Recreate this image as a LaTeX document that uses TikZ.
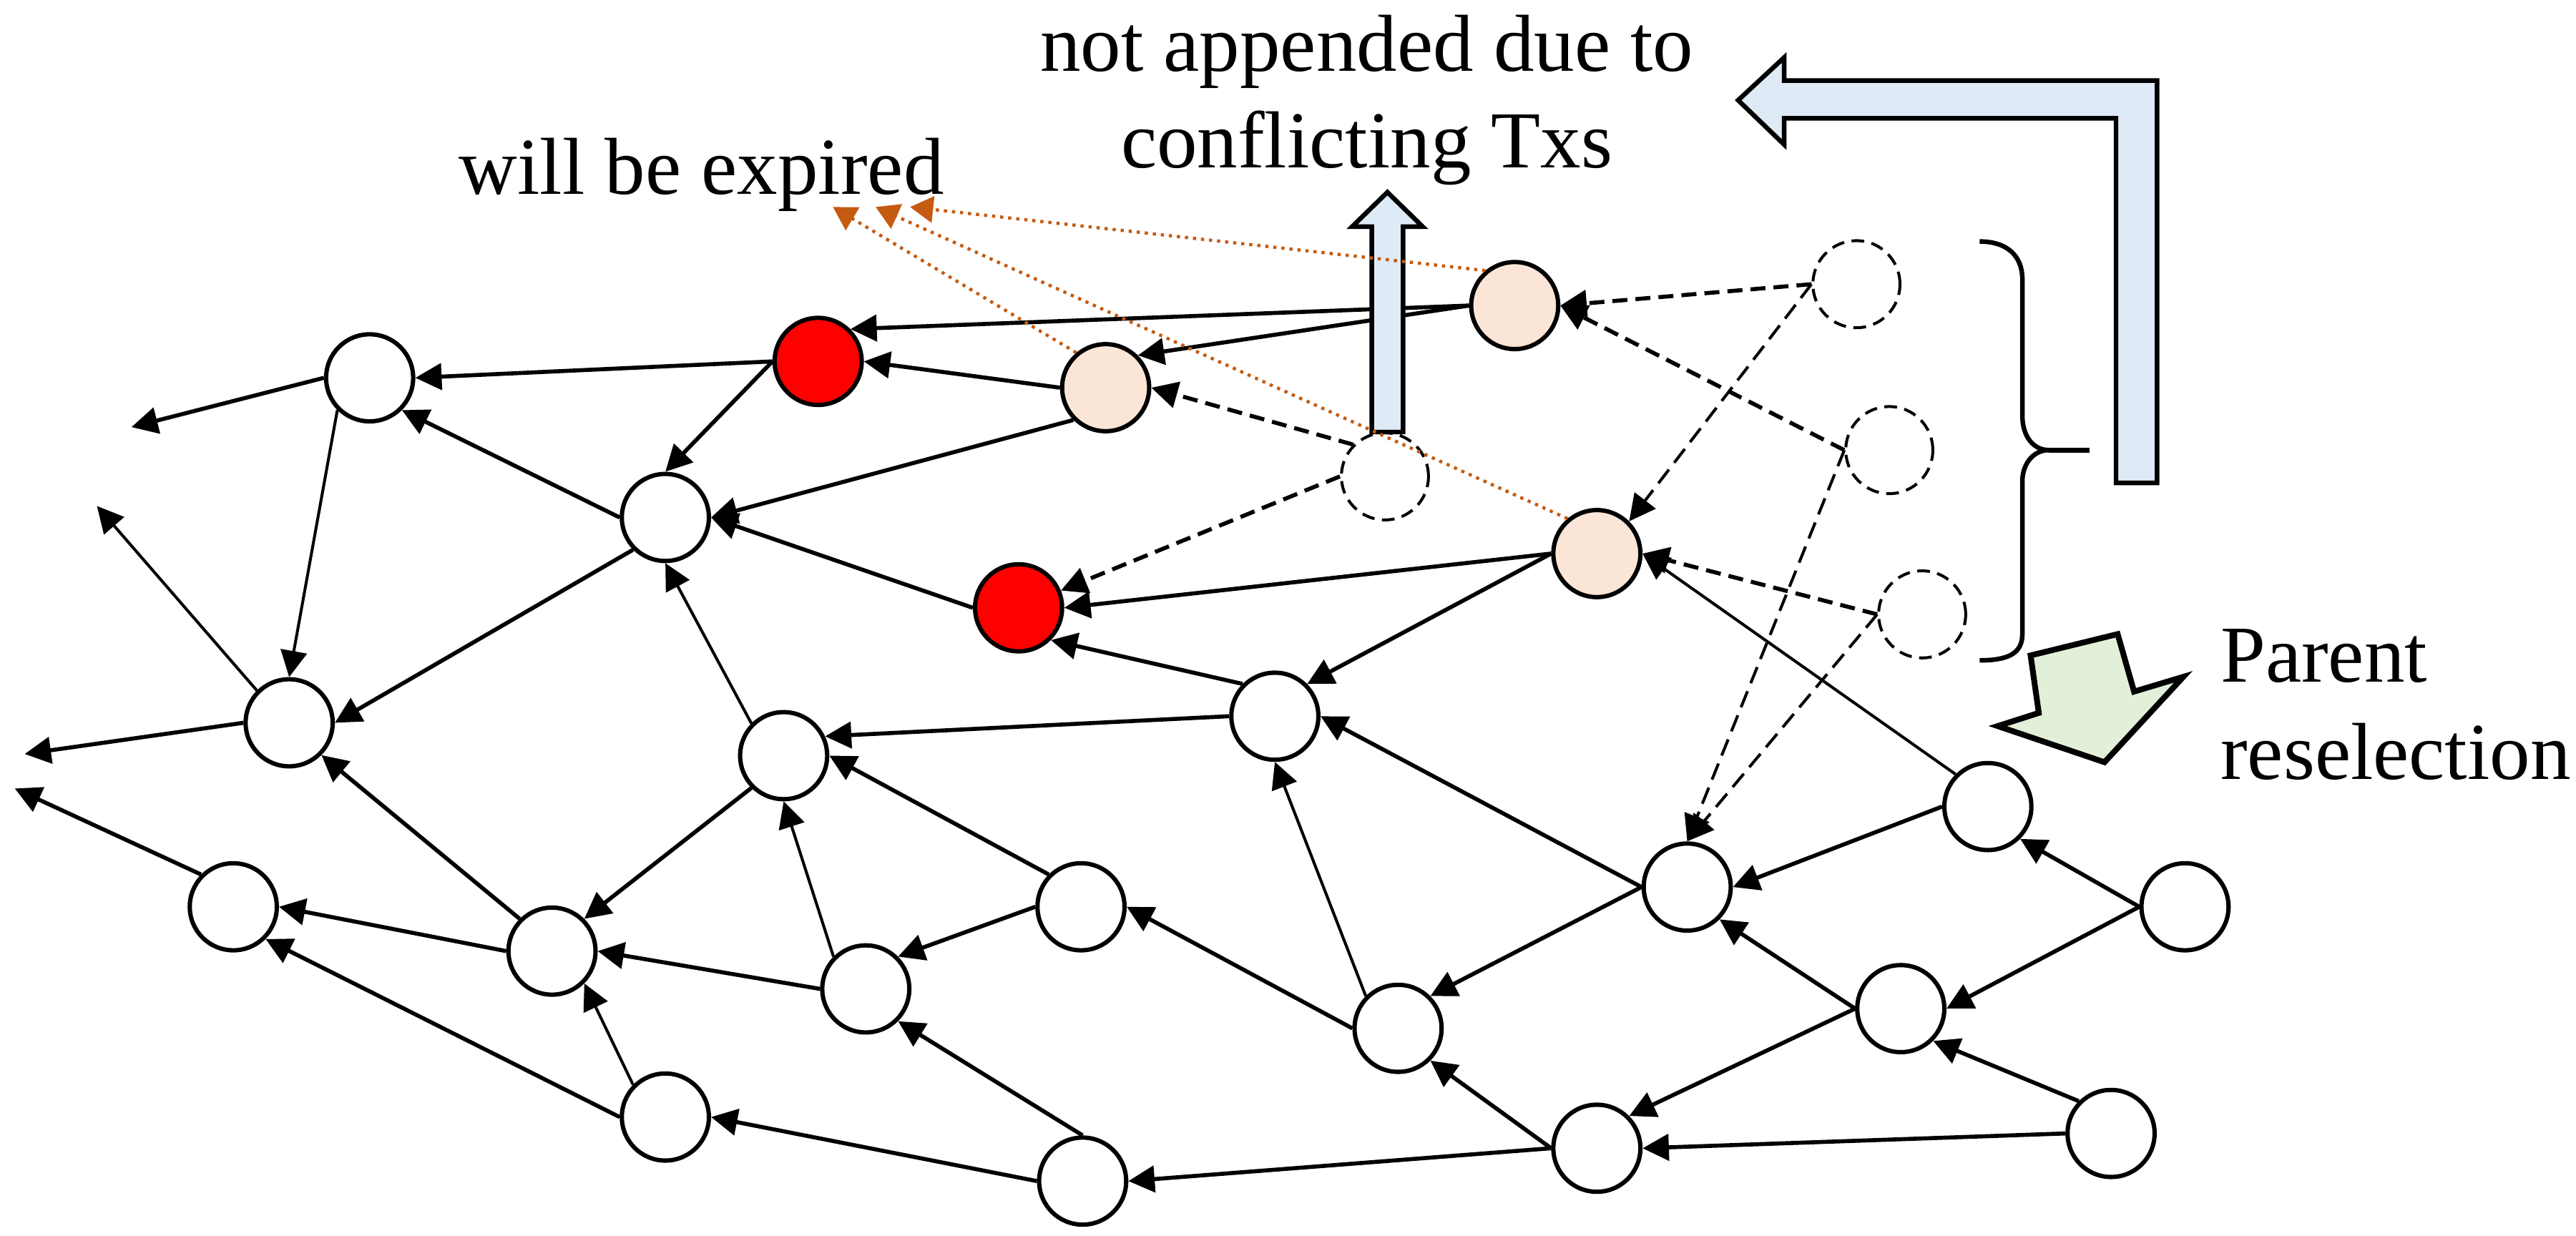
\documentclass[tikz,border=0pt]{standalone}
\usepackage{fontspec}
\setmainfont{Liberation Serif}
\usetikzlibrary{arrows.meta}

\definecolor{peach}{HTML}{FBE5D6}
\definecolor{paleblue}{HTML}{DEEBF7}
\definecolor{palegreen}{HTML}{E2F0D9}
\definecolor{rust}{HTML}{C55A11}

\tikzset{
  tx/.style={circle, draw, line width=0.75pt, fill=white, minimum size=5.3mm, inner sep=0pt},
  txexp/.style={tx, fill=red},
  txconf/.style={tx, fill=peach},
  txnew/.style={circle, draw, line width=0.5pt, dash pattern=on 2.2pt off 1.3pt, minimum size=5.3mm, inner sep=0pt},
  edge/.style={line width=0.7pt, -{Triangle[length=1.6mm, width=1.6mm]}},
  thinedge/.style={edge, line width=0.5pt},
  newedge/.style={edge, dash pattern=on 2.6pt off 1.4pt},
  thinnewedge/.style={newedge, line width=0.5pt, dash pattern=on 3pt off 1.5pt},
  expline/.style={rust, line width=0.55pt, dash pattern=on 0.55pt off 0.85pt, -{Triangle[length=1.4mm, width=1.6mm]}},
  bigarrow/.style={draw, line width=0.8pt, line join=miter, fill=paleblue},
  labeltext/.style={font=\fontsize{14}{16.8}\selectfont, inner sep=0pt}
}

\begin{document}
\begin{tikzpicture}[x=0.1mm, y=-0.1mm]
    \useasboundingbox (0,0) rectangle (1568,752);

    % Labels
    \node[labeltext, align=center] (conflict) at (832,61) {not appended due to\\conflicting Txs};
    \node[labeltext, anchor=base] (expired) at (427,118) {will be expired};
    \node[labeltext, align=left, anchor=west] (reselect) at (1351,429) {Parent\\reselection};

    % Transactions in the tangle
    \node[tx] (t1) at (225,230) {};
    \node[tx] (t2) at (405,315) {};
    \node[tx] (t3) at (176,440) {};
    \node[tx] (t4) at (477,460) {};
    \node[tx] (t5) at (776,436) {};
    \node[tx] (t6) at (1210,491) {};
    \node[tx] (t7) at (1027,540) {};
    \node[tx] (t8) at (142,552) {};
    \node[tx] (t9) at (658,552) {};
    \node[tx] (t10) at (336,579) {};
    \node[tx] (t11) at (527,602) {};
    \node[tx] (t12) at (1330,552) {};
    \node[tx] (t13) at (851,626) {};
    \node[tx] (t14) at (1157,614) {};
    \node[tx] (t15) at (405,680) {};
    \node[tx] (t16) at (659,719) {};
    \node[tx] (t17) at (972,699) {};
    \node[tx] (t18) at (1285,690) {};

    % Expiring and conflicting transactions
    \node[txexp] (exp1) at (498,220) {};
    \node[txexp] (exp2) at (620,370) {};
    \node[txconf] (cf1) at (922,186) {};
    \node[txconf] (cf2) at (673,236) {};
    \node[txconf] (cf3) at (972,337) {};

    % New transactions
    \node[txnew] (new1) at (1130,173) {};
    \node[txnew] (new2) at (843,290) {};
    \node[txnew] (new3) at (1150,274) {};
    \node[txnew] (new4) at (1170,374) {};

    % Loose ends
    \coordinate (out1) at (80,260);
    \coordinate (out2) at (59,308);
    \coordinate (out3) at (15,459);
    \coordinate (out4) at (9,480);
    \coordinate (gone1) at (554,126);
    \coordinate (gone2) at (507,126);
    \coordinate (gone3) at (533,126);

    % Approvals
    \draw[edge] (t1.west) -- (out1);
    \draw[edge] (exp1.west) -- (t1.east);
    \draw[thinedge] (t1.south west) -- (t3.north);
    \draw[thinedge] (t3.north west) -- (out2);
    \draw[edge] (t3.west) -- (out3);
    \draw[edge] (t8.north west) -- (out4);
    \draw[edge] (t2.west) -- (t1.south east);
    \draw[edge] (exp1.west) -- (t2.north);
    \draw[edge] (cf2.west) -- (exp1.east);
    \draw[edge] (cf1.west) -- (exp1.north east);
    \draw[edge] (cf1.west) -- (cf2.north east);
    \draw[edge] (cf2.south west) -- (t2.east);
    \draw[edge] (exp2.west) -- (t2.east);
    \draw[edge] (t2.south west) -- (t3.east);
    \draw[thinedge] (t4.north west) -- (t2.south);
    \draw[edge] (t5.north west) -- (exp2.south east);
    \draw[edge] (cf3.west) -- (exp2.east);
    \draw[edge] (t5.west) -- (t4.25);
    \draw[edge] (cf3.west) -- (t5.north east);
    \draw[edge] (t4.south west) -- (t10.north east);
    \draw[edge] (t10.north west) -- (t3.south east);
    \draw[edge] (t10.west) -- (t8.east);
    \draw[thinedge] (t11.north west) -- (t4.south);
    \draw[edge] (t9.west) -- (t11.north east);
    \draw[edge] (t9.north west) -- (t4.east);
    \draw[edge] (t11.west) -- (t10.east);
    \draw[thinedge] (t15.north west) -- (t10.south east);
    \draw[edge] (t15.west) -- (t8.south east);
    \draw[edge] (t16.west) -- (t15.east);
    \draw[edge] (t16.north) -- (t11.south east);
    \draw[edge] (t17.west) -- (t16.east);
    \draw[edge] (t13.west) -- (t9.east);
    \draw[thinedge] (t13.north west) -- (t5.south);
    \draw[edge] (t7.west) -- (t5.east);
    \draw[edge] (t7.west) -- (t13.north east);
    \draw[thinedge] (t6.north west) -- (cf3.east);
    \draw[edge] (t6.west) -- (t7.east);
    \draw[edge] (t12.west) -- (t6.south east);
    \draw[edge] (t12.west) -- (t14.east);
    \draw[edge] (t14.west) -- (t7.south east);
    \draw[edge] (t14.west) -- (t17.north east);
    \draw[edge] (t18.north west) -- (t14.south east);
    \draw[edge] (t18.west) -- (t17.east);
    \draw[edge] (t17.west) -- (t13.south east);

    % Approvals of the new transactions
    \draw[newedge] (new1.west) -- (cf1.east);
    \draw[thinnewedge] (new1.west) -- (cf3.north east);
    \draw[newedge] (new2.north west) -- (cf2.east);
    \draw[newedge] (new2.west) -- (exp2);
    \draw[newedge] (new3.west) -- (cf1.east);
    \draw[thinnewedge] (new3.west) -- (t7.north);
    \draw[newedge] (new4.west) -- (cf3.east);
    \draw[thinnewedge] (new4.west) -- (t7.north);

    % Block arrows and brace
    \draw[bigarrow] (835,263) -- (835,138) -- (823,138) -- (844.5,117) -- (866,138) -- (854,138) -- (854,263) -- cycle;
    \draw[bigarrow] (1313,294) -- (1313,49) -- (1086,49) -- (1086,35) -- (1058,61) -- (1086,88) -- (1086,72) -- (1288,72) -- (1288,294) -- cycle;
    \draw[bigarrow, fill=palegreen, line width=1pt] (1236,399) -- (1289,386) -- (1299,421) -- (1329,412) -- (1281,464) -- (1216,442) -- (1241,434) -- cycle;
    \draw[line width=0.8pt] (1205,147) .. controls (1222,147) and (1231,156) .. (1231,170) -- (1231,253)
        .. controls (1231,266) and (1238,274) .. (1247,274)
        .. controls (1238,274) and (1231,282) .. (1231,293) -- (1231,386)
        .. controls (1231,398) and (1222,402) .. (1205,402);
    \draw[line width=0.8pt] (1247,274) -- (1272,274);

    % Expiry
    \draw[expline] (cf1.130) -- (gone1);
    \draw[expline] (cf2.130) -- (gone2);
    \draw[expline] (cf3.130) -- (gone3);
\end{tikzpicture}
\end{document}
